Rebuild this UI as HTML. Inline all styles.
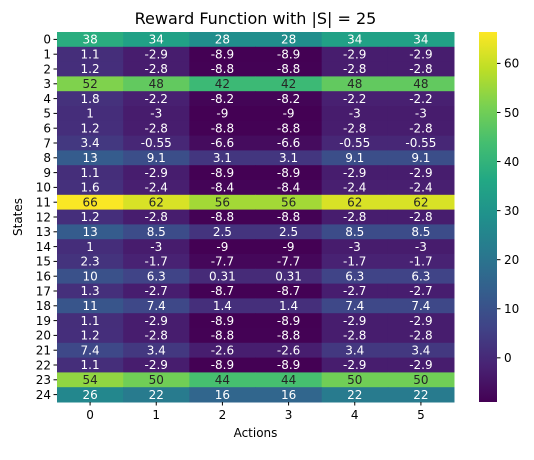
<!DOCTYPE html>
<html><head><meta charset="utf-8"><style>
body{margin:0;background:#fff;font-family:"Liberation Sans","DejaVu Sans",sans-serif}
</style></head><body>
<svg id="chart" width="534" height="455" xmlns="http://www.w3.org/2000/svg" font-family="DejaVu Sans, Liberation Sans, sans-serif">
<text x="255.5" y="24" text-anchor="middle" font-size="16">Reward Function with |S| = 25</text>
<g id="cells"></g><g id="axes"></g><g id="cbar"></g>
<text x="255.5" y="437" text-anchor="middle" font-size="12">Actions</text>
<text transform="translate(22,217) rotate(-90)" text-anchor="middle" font-size="12">States</text>
</svg>
<script>
const actions=[0,1,2,3,4,5];
const states=[...Array(25).keys()];
const values=[
[38,34,28,28,34,34],[1.1,-2.9,-8.9,-8.9,-2.9,-2.9],[1.2,-2.8,-8.8,-8.8,-2.8,-2.8],[52,48,42,42,48,48],
[1.8,-2.2,-8.2,-8.2,-2.2,-2.2],[1,-3,-9,-9,-3,-3],[1.2,-2.8,-8.8,-8.8,-2.8,-2.8],[3.4,-0.55,-6.6,-6.6,-0.55,-0.55],
[13,9.1,3.1,3.1,9.1,9.1],[1.1,-2.9,-8.9,-8.9,-2.9,-2.9],[1.6,-2.4,-8.4,-8.4,-2.4,-2.4],[66,62,56,56,62,62],
[1.2,-2.8,-8.8,-8.8,-2.8,-2.8],[13,8.5,2.5,2.5,8.5,8.5],[1,-3,-9,-9,-3,-3],[2.3,-1.7,-7.7,-7.7,-1.7,-1.7],
[10,6.3,0.31,0.31,6.3,6.3],[1.3,-2.7,-8.7,-8.7,-2.7,-2.7],[11,7.4,1.4,1.4,7.4,7.4],[1.1,-2.9,-8.9,-8.9,-2.9,-2.9],
[1.2,-2.8,-8.8,-8.8,-2.8,-2.8],[7.4,3.4,-2.6,-2.6,3.4,3.4],[1.1,-2.9,-8.9,-8.9,-2.9,-2.9],[54,50,44,44,50,50],[26,22,16,16,22,22]];
const cbarTicks=[0,10,20,30,40,50,60];
const vmin=-9, vmax=66.4;
const X0=57,X1=454,Y0=32,Y1=402;
const cw=(X1-X0)/actions.length, ch=(Y1-Y0)/states.length;
const xs=i=>X0+i*cw, ys=j=>Y0+j*ch;
const vir=[[68,1,84],[72,35,116],[64,67,135],[52,94,141],[41,120,142],[32,144,140],[34,168,132],[68,190,112],[121,209,81],[189,222,38],[253,231,37]];
function color(v){let t=Math.max(0,Math.min(1,(v-vmin)/(vmax-vmin)))*10;let i=Math.min(9,Math.floor(t)),f=t-i;
 const c=vir[i].map((a,k)=>Math.round(a+(vir[i+1][k]-a)*f));return `rgb(${c})`;}
const NS="http://www.w3.org/2000/svg";
function mk(tag,at,par,txt){const e=document.createElementNS(NS,tag);for(const k in at)e.setAttribute(k,at[k]);if(txt!==undefined)e.textContent=txt;par.appendChild(e);return e;}
const cells=document.getElementById('cells'),axes=document.getElementById('axes'),cb=document.getElementById('cbar');
states.forEach((s,j)=>actions.forEach((a,i)=>{const v=values[j][i];
 const r=mk('rect',{x:xs(i),y:ys(j),width:cw+0.5,height:ch+0.5,fill:color(v)},cells);
 
 
 const t=mk('text',{x:xs(i)+cw/2,y:ys(j)+ch/2+4.2,'text-anchor':'middle','font-size':'12',fill:(v-vmin)/(vmax-vmin)>0.65?'#262626':'#fff'},cells,String(v));
 
 
}));
actions.forEach((a,i)=>{const x=xs(i)+cw/2;mk('line',{x1:x,x2:x,y1:Y1,y2:Y1+3.5,stroke:'#000'},axes);
 const t=mk('text',{x:x,y:Y1+17,'text-anchor':'middle','font-size':'12'},axes,String(a));
 
 });
states.forEach((s,j)=>{const y=ys(j)+ch/2;mk('line',{x1:X0-3.5,x2:X0,y1:y,y2:y,stroke:'#000'},axes);
 const t=mk('text',{x:X0-6,y:y+4.3,'text-anchor':'end','font-size':'12'},axes,String(s));
 
 });
const CX0=479,CX1=497;
const cy=v=>Y1-(v-vmin)/(vmax-vmin)*(Y1-Y0);
const defs=mk('defs',{},cb);const g=mk('linearGradient',{id:'vg',x1:0,y1:1,x2:0,y2:0},defs);
vir.forEach((c,k)=>mk('stop',{offset:k/10,'stop-color':`rgb(${c})`},g));
const bar=mk('rect',{x:CX0,y:Y0,width:CX1-CX0,height:Y1-Y0,fill:'url(#vg)'},cb);


cbarTicks.forEach(v=>{const y=cy(v);mk('line',{x1:CX1,x2:CX1+3.5,y1:y,y2:y,stroke:'#000'},cb);
 const t=mk('text',{x:CX1+7,y:y+4.3,'font-size':'12'},cb,String(v));
 
 });
</script>
</body></html>
